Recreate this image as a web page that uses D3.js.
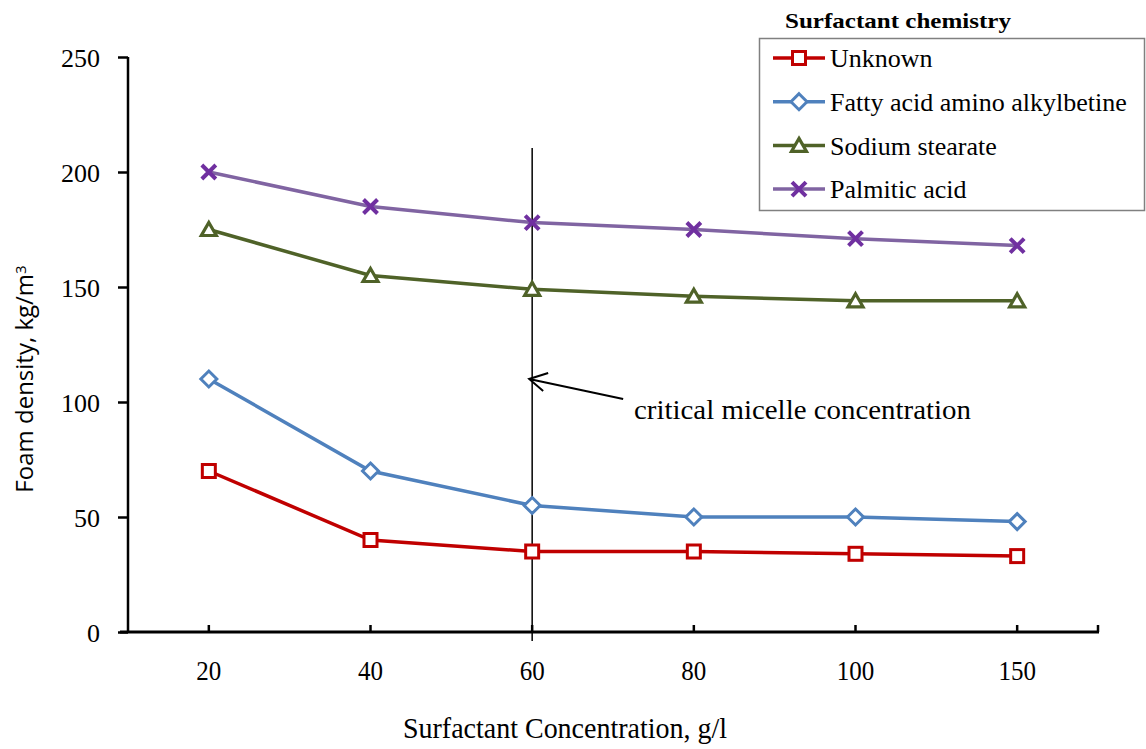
<!DOCTYPE html>
<html>
<head>
<meta charset="utf-8">
<script src="https://cdn.jsdelivr.net/npm/d3@7"></script>
<style>
  body { margin: 0; background: #fff; }
  text { font-family: "Liberation Serif", "DejaVu Serif", serif; fill: #000; }
</style>
</head>
<body>
<script>
// data
var concentrations = ["20", "40", "60", "80", "100", "150"];
var seriesNames = ["Unknown", "Fatty acid amino alkylbetine", "Sodium stearate", "Palmitic acid"];
var unknown  = [70, 40, 35, 35, 34, 33];
var fatty    = [110, 70, 55, 50, 50, 48];
var sodium   = [175, 155, 149, 146, 144, 144];
var palmitic = [200, 185, 178, 175, 171, 168];
var yTicks = [0, 50, 100, 150, 200, 250];
var cmcAt = "60";
var cmcArrowValue = 110;

var lineColors   = ["#C00000", "#4F81BD", "#4F6228", "#8064A2"];
var markerColors = ["#C00000", "#4F81BD", "#4F6228", "#7030A0"];
var markerTypes  = ["square", "diamond", "triangle", "cross"];

var series = [unknown, fatty, sodium, palmitic].map(function(vals, i) {
  return {name: seriesNames[i], values: vals, i: i};
});

var width = 1146, height = 749;
var x = d3.scaleBand().domain(concentrations).range([128, 1098]);
var y = d3.scaleLinear().domain([0, 250]).range([632, 57]);
var cx = function(c) { return x(c) + x.bandwidth() / 2; };

var svg = d3.select("body").append("svg")
    .attr("width", width)
    .attr("height", height);

// y axis
var yAxis = svg.append("g")
    .attr("transform", "translate(128,0)")
    .call(d3.axisLeft(y).tickValues(yTicks).tickSize(10).tickPadding(18));
yAxis.select(".domain").attr("stroke", "#000").attr("stroke-width", 2.5)
    .attr("d", "M0," + y(250) + "V" + y(0));
yAxis.selectAll(".tick line").attr("stroke-width", 2.5);
yAxis.selectAll(".tick text")
    .style("font-family", "Liberation Serif")
    .style("font-size", "26px")
    .attr("dy", "0.36em");

// x axis (ticks at category centres, pointing up)
var xg = svg.append("g").attr("transform", "translate(0," + y(0) + ")");
xg.append("line")
    .attr("x1", 120).attr("x2", 1099)
    .attr("stroke", "#000").attr("stroke-width", 3);
xg.selectAll(".xt")
  .data(concentrations)
  .enter().append("line")
    .attr("class", "xt")
    .attr("x1", cx).attr("x2", cx)
    .attr("y1", 0).attr("y2", -7)
    .attr("stroke", "#000").attr("stroke-width", 2.5);
xg.append("line")
    .attr("x1", 1098).attr("x2", 1098).attr("y1", 0).attr("y2", -7)
    .attr("stroke", "#000").attr("stroke-width", 2.5);
xg.selectAll(".xl")
  .data(concentrations)
  .enter().append("text")
    .attr("class", "xl")
    .attr("x", cx)
    .attr("y", 48)
    .attr("text-anchor", "middle")
    .attr("textLength", function(d) { return d.length * 12.5; })
    .attr("lengthAdjust", "spacingAndGlyphs")
    .style("font-size", "28px")
    .text(function(d) { return d; });

// axis titles
svg.append("text")
    .attr("x", 565).attr("y", 738)
    .attr("text-anchor", "middle")
    .attr("textLength", 324)
    .attr("lengthAdjust", "spacingAndGlyphs")
    .style("font-size", "29px")
    .text("Surfactant Concentration, g/l");

var yt = svg.append("text")
    .attr("transform", "translate(33,379) rotate(-90)")
    .attr("text-anchor", "middle")
    .style("font-family", "Open Sans")
    .style("font-size", "24px");
yt.append("tspan").text("Foam density, kg/m");
yt.append("tspan").attr("dy", "-0.5em").style("font-size", "15px").text("3");

// critical micelle concentration line
svg.append("line")
    .attr("x1", cx(cmcAt)).attr("x2", cx(cmcAt))
    .attr("y1", 148).attr("y2", 641)
    .attr("stroke", "#000").attr("stroke-width", 1.5);

var tipX = cx(cmcAt) - 3, tipY = y(cmcArrowValue);
svg.append("path")
    .attr("d", "M" + (tipX + 94) + "," + (tipY + 20) + "L" + tipX + "," + tipY +
               "M" + (tipX + 19) + "," + (tipY - 6) + "L" + tipX + "," + tipY + "L" + (tipX + 14) + "," + (tipY + 12))
    .attr("fill", "none")
    .attr("stroke", "#000")
    .attr("stroke-width", 2);
svg.append("text")
    .attr("x", 634).attr("y", 419)
    .attr("textLength", 337)
    .attr("lengthAdjust", "spacingAndGlyphs")
    .style("font-size", "27px")
    .text("critical micelle concentration");

// lines
var line = d3.line()
    .x(function(d, i) { return cx(concentrations[i]); })
    .y(function(d) { return y(d); });

svg.append("g").selectAll("path")
  .data(series)
  .enter().append("path")
    .attr("d", function(s) { return line(s.values); })
    .attr("fill", "none")
    .attr("stroke", function(s) { return lineColors[s.i]; })
    .attr("stroke-width", 3.5);

function drawMarker(g, type, color) {
  if (type === "square") {
    g.append("rect").attr("x", -6.5).attr("y", -6.5).attr("width", 13).attr("height", 13)
      .attr("fill", "#fff").attr("stroke", color).attr("stroke-width", 3);
  } else if (type === "diamond") {
    g.append("path").attr("d", "M0,-8L8,0L0,8L-8,0Z")
      .attr("fill", "#fff").attr("stroke", color).attr("stroke-width", 3);
  } else if (type === "triangle") {
    g.append("path").attr("d", "M0,-7L7.5,6L-7.5,6Z")
      .attr("fill", "#fff").attr("stroke", color).attr("stroke-width", 3.2)
      .attr("stroke-linejoin", "miter");
  } else {
    g.append("path").attr("d", "M-7,-7L7,7M-7,7L7,-7")
      .attr("fill", "none").attr("stroke", color).attr("stroke-width", 4);
  }
}

series.forEach(function(s) {
  svg.append("g").selectAll("g")
    .data(s.values)
    .enter().append("g")
      .attr("transform", function(d, i) { return "translate(" + cx(concentrations[i]) + "," + y(d) + ")"; })
      .each(function() { drawMarker(d3.select(this), markerTypes[s.i], markerColors[s.i]); });
});

// legend
svg.append("text")
    .attr("x", 785).attr("y", 28)
    .attr("textLength", 226)
    .attr("lengthAdjust", "spacingAndGlyphs")
    .style("font-size", "22px")
    .style("font-weight", "bold")
    .text("Surfactant chemistry");

svg.append("rect")
    .attr("x", 759.5).attr("y", 38.5)
    .attr("width", 385).attr("height", 172)
    .attr("fill", "#fff").attr("stroke", "#808080").attr("stroke-width", 1.5);

var leg = svg.append("g").selectAll("g")
  .data(series)
  .enter().append("g")
    .attr("transform", function(s) { return "translate(0," + (58 + s.i * 43.7) + ")"; });
leg.append("line")
    .attr("x1", 773).attr("x2", 825)
    .attr("stroke", function(s) { return lineColors[s.i]; })
    .attr("stroke-width", 3.5);
leg.append("g")
    .attr("transform", "translate(799,0)")
    .each(function(s) { drawMarker(d3.select(this), markerTypes[s.i], markerColors[s.i]); });
leg.append("text")
    .attr("x", 830).attr("y", 0).attr("dy", "0.35em")
    .style("font-size", "26px")
    .text(function(s) { return s.name; });
</script>
</body>
</html>
